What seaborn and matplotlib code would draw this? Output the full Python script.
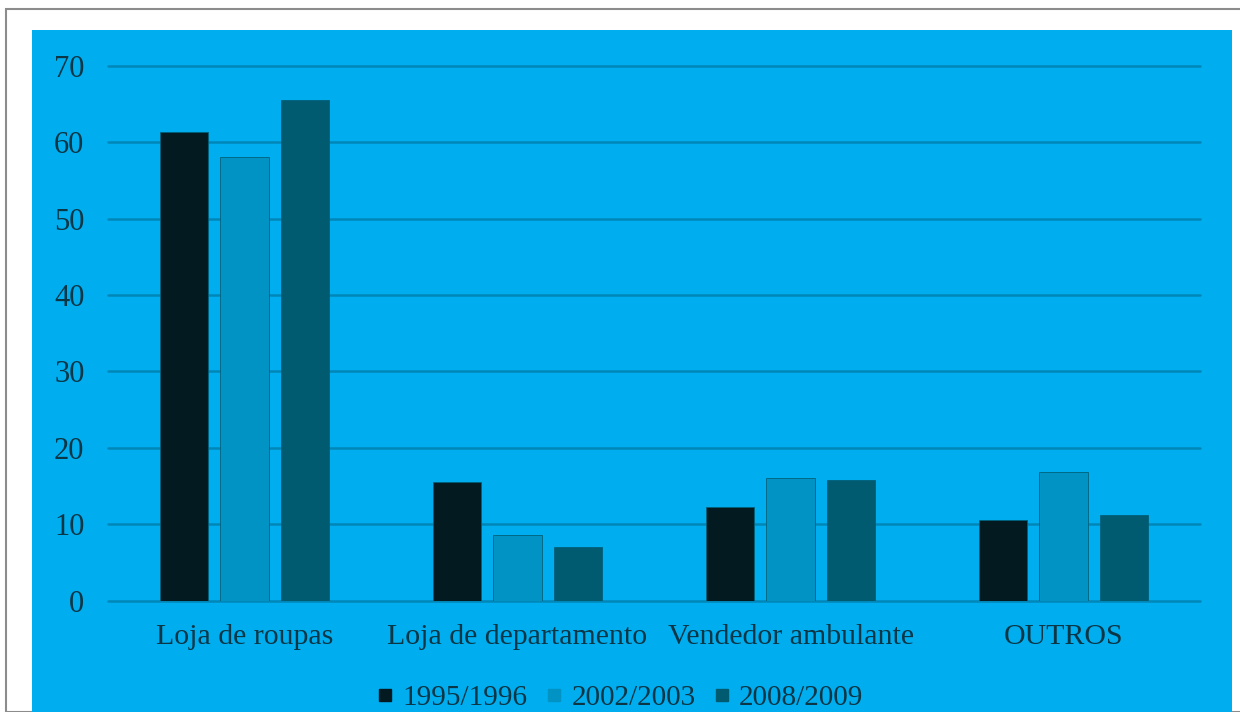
import matplotlib
matplotlib.use("Agg")
import matplotlib.pyplot as plt
from matplotlib.patches import Rectangle
from matplotlib.lines import Line2D
import seaborn as sns
import pandas as pd

categories = ["Loja de roupas", "Loja de departamento", "Vendedor ambulante", "OUTROS"]
periods = ["1995/1996", "2002/2003", "2008/2009"]
values_1995 = [61.4, 15.5, 12.2, 10.5]
values_2002 = [58.1, 8.6, 16.1, 16.8]
values_2008 = [65.6, 7.0, 15.8, 11.2]
y_ticks = [0, 10, 20, 30, 40, 50, 60, 70]

colors = ["#021A20", "#0093C4", "#005B70"]
bg_blue = "#00ADEF"
grid_color = "#0087B8"
text_color = "#0A3646"

rows = []
for period, vals in zip(periods, [values_1995, values_2002, values_2008]):
    for cat, v in zip(categories, vals):
        rows.append({"categoria": cat, "periodo": period, "valor": v})
df = pd.DataFrame(rows)

sns.set_theme(style="white")
plt.rcParams["font.family"] = ["Liberation Serif", "DejaVu Serif"]

W, H = 1240, 712
fig = plt.figure(figsize=(W / 100, H / 100), dpi=100)
fig.patch.set_facecolor("white")

# outer frame and blue chart area, kept behind the axes
fig.add_artist(Rectangle((6 / W, 0), 1.2, (H - 9) / H, transform=fig.transFigure,
                         facecolor="none", edgecolor="#8c8c8c", linewidth=1.5, zorder=-2))
fig.add_artist(Rectangle((32 / W, 0), 1200 / W, (H - 30) / H, transform=fig.transFigure,
                         facecolor=bg_blue, edgecolor="none", zorder=-1))

ax_left, ax_right = 108, 1200
ax_top, ax_bottom = 66, 600.5
ax = fig.add_axes([ax_left / W, (H - ax_bottom) / H, (ax_right - ax_left) / W,
                   (ax_bottom - ax_top) / H])
ax.set_facecolor("none")
ax.patch.set_alpha(0)

sns.barplot(data=df, x="categoria", y="valor", hue="periodo", order=categories,
            hue_order=periods, palette=colors, saturation=1, width=0.66, gap=0.2,
            ax=ax, edgecolor="#00607a", linewidth=0.6, legend=False, zorder=3)

ax.set_ylim(0, 70)
ax.set_xlim(-0.5, len(categories) - 0.5)
ax.set_yticks(y_ticks)
ax.set_xlabel("")
ax.set_ylabel("")
for s in ax.spines.values():
    s.set_visible(False)
ax.yaxis.grid(True, color=grid_color, linewidth=1.8)
ax.set_axisbelow(True)
for gl in ax.get_ygridlines():
    gl.set_clip_on(False)
ax.tick_params(axis="y", length=0, pad=17, labelsize=22, labelcolor=text_color)
ax.tick_params(axis="x", length=0, pad=17, labelsize=21.5, labelcolor=text_color)

handles = [Line2D([0], [0], marker="s", linestyle="none", markersize=8,
                  markerfacecolor=c, markeredgecolor=c) for c in colors]
fig.legend(handles, periods, loc="center", bbox_to_anchor=(0.5, (H - 698) / H),
           ncol=3, frameon=False, fontsize=21, labelcolor=text_color,
           handletextpad=0.3, columnspacing=0.6, handlelength=0.6)

fig.savefig("out.png", dpi=100)
